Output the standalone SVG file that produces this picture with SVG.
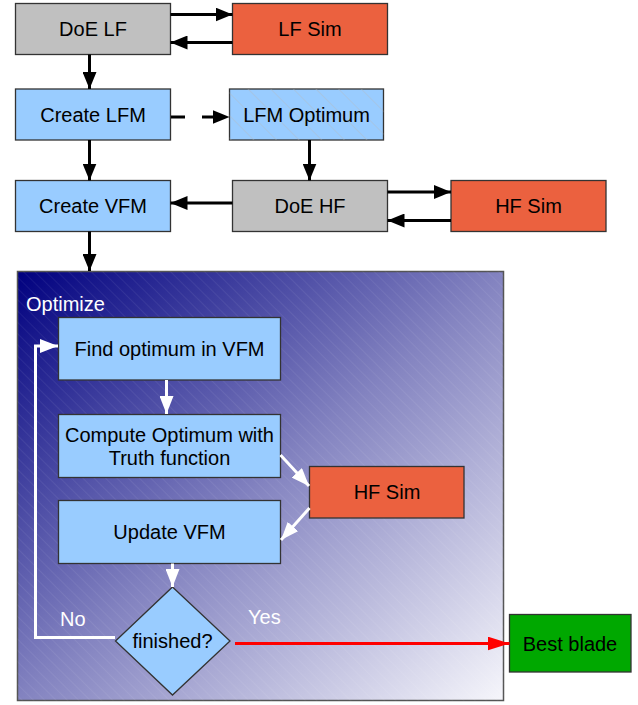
<svg xmlns="http://www.w3.org/2000/svg" width="638" height="705" viewBox="0 0 638 705">
<defs>
<linearGradient id="optGrad" x1="0" y1="0" x2="1" y2="1">
<stop offset="0" stop-color="#00007f"/>
<stop offset="0.5" stop-color="#8383c0"/>
<stop offset="1" stop-color="#f6f6fb"/>
</linearGradient>
<pattern id="hatch" width="8" height="8" patternUnits="userSpaceOnUse" patternTransform="rotate(-45)">
<line x1="0" y1="0" x2="0" y2="8" stroke="#ffffff" stroke-opacity="0.12" stroke-width="1"/>
</pattern>
<pattern id="hatchLight" width="16" height="16" patternUnits="userSpaceOnUse" patternTransform="rotate(-45)">
<line x1="0" y1="0" x2="0" y2="16" stroke="#b8b8b8" stroke-opacity="0.7" stroke-width="1"/>
</pattern>
<marker id="ah" markerUnits="userSpaceOnUse" markerWidth="17" markerHeight="14" refX="17" refY="7" orient="auto">
<path d="M0,0 L17,7 L0,14 z" fill="#000"/>
</marker>
<marker id="ahw" markerUnits="userSpaceOnUse" markerWidth="18" markerHeight="14" refX="18" refY="7" orient="auto">
<path d="M0,0 L18,7 L0,14 z" fill="#fff"/>
</marker>
<marker id="ahr" markerUnits="userSpaceOnUse" markerWidth="22" markerHeight="14" refX="22" refY="7" orient="auto">
<path d="M0,0 L22,7 L0,14 z" fill="#ff0000"/>
</marker>
</defs>
<style>
.box{stroke:#333;stroke-width:1.3}
.gray{fill:#c0c0c0}
.orange{fill:#eb613f}
.blue{fill:#99ccff}
.green{fill:#00a800}
.t{font-family:"Liberation Sans",Arial,sans-serif;font-size:20px;fill:#000;text-anchor:middle}
.wt{font-family:"Liberation Sans",Arial,sans-serif;font-size:20px;fill:#fff}
.c{fill:none;stroke:#000;stroke-width:3;marker-end:url(#ah)}
.cw{fill:none;stroke:#fff;stroke-width:3;marker-end:url(#ahw)}
.cr{fill:none;stroke:#ff0000;stroke-width:3;marker-end:url(#ahr)}
</style>
<rect width="638" height="705" fill="#fff"/>

<g id="optimize">
<rect x="17.5" y="271.5" width="486" height="429" fill="url(#optGrad)" stroke="#555" stroke-width="1.5"/>
<rect x="17.5" y="271.5" width="486" height="429" fill="url(#hatch)"/>
<text class="wt" x="26" y="311">Optimize</text>
</g>

<g id="doe-lf">
<rect class="box gray" x="15.5" y="3.5" width="155" height="51"/>
<text class="t" x="93" y="36">DoE LF</text>
</g>
<g id="lf-sim">
<rect class="box orange" x="232.5" y="3.5" width="155" height="51"/>
<text class="t" x="310" y="36">LF Sim</text>
</g>
<g id="create-lfm">
<rect class="box blue" x="15.5" y="89" width="155" height="51"/>
<text class="t" x="93" y="122">Create LFM</text>
</g>
<g id="lfm-optimum">
<rect class="box blue" x="229.5" y="89" width="154" height="51"/>
<rect x="229.5" y="89" width="154" height="51" fill="url(#hatchLight)"/>
<text class="t" x="306.5" y="122">LFM Optimum</text>
</g>
<g id="create-vfm">
<rect class="box blue" x="15.5" y="180.5" width="155" height="51"/>
<text class="t" x="93" y="213">Create VFM</text>
</g>
<g id="doe-hf">
<rect class="box gray" x="232.5" y="180.5" width="155" height="51"/>
<text class="t" x="310" y="213">DoE HF</text>
</g>
<g id="hf-sim-top">
<rect class="box orange" x="451" y="180.5" width="155" height="51"/>
<text class="t" x="528.5" y="213">HF Sim</text>
</g>

<g id="find-optimum">
<rect class="box blue" x="58.5" y="317.5" width="222" height="62.5"/>
<text class="t" x="169.5" y="356">Find optimum in VFM</text>
</g>
<g id="compute-optimum">
<rect class="box blue" x="58.5" y="414.5" width="222" height="63"/>
<text class="t" x="169.5" y="441.5">Compute Optimum with</text>
<text class="t" x="169.5" y="465">Truth function</text>
</g>
<g id="hf-sim-inner">
<rect class="box orange" x="309.5" y="466.5" width="154.5" height="51.5"/>
<text class="t" x="387" y="499">HF Sim</text>
</g>
<g id="update-vfm">
<rect class="box blue" x="58.5" y="500.5" width="222" height="63"/>
<text class="t" x="169.5" y="539">Update VFM</text>
</g>
<g id="finished">
<polygon class="box blue" points="172.5,587 230,641 172.5,695 115.5,641"/>
<text class="t" x="172.5" y="648">finished?</text>
</g>
<g id="best-blade">
<rect class="box green" x="509.5" y="614.5" width="121.5" height="57.5"/>
<text class="t" x="570" y="651">Best blade</text>
</g>

<g id="connectors">
<line class="c" x1="170.5" y1="14.5" x2="232.5" y2="14.5"/>
<line class="c" x1="232.5" y1="42.5" x2="170.5" y2="42.5"/>
<line class="c" x1="89.5" y1="54.5" x2="89.5" y2="89"/>
<line class="c" x1="171" y1="117" x2="229.5" y2="117" stroke-dasharray="14,17"/>
<line class="c" x1="89.5" y1="140" x2="89.5" y2="180.5"/>
<line class="c" x1="309.5" y1="140" x2="309.5" y2="180.5"/>
<line class="c" x1="232.5" y1="203" x2="170.5" y2="203"/>
<line class="c" x1="387.5" y1="192" x2="451" y2="192"/>
<line class="c" x1="451" y1="220.5" x2="387.5" y2="220.5"/>
<line class="c" x1="89.5" y1="231.5" x2="89.5" y2="271"/>
<line class="cw" x1="166.5" y1="380" x2="166.5" y2="414"/>
<line class="cw" x1="280.5" y1="455" x2="309" y2="486"/>
<line class="cw" x1="309.5" y1="508" x2="281" y2="540"/>
<line class="cw" x1="172.5" y1="563.5" x2="172.5" y2="587"/>
<polyline class="cw" points="115,637.5 35.5,637.5 35.5,346 58,346"/>
<line class="cr" x1="235" y1="643.5" x2="509.5" y2="643.5"/>
<text class="wt" x="60" y="626">No</text>
<text class="wt" x="248" y="624">Yes</text>
</g>
</svg>
